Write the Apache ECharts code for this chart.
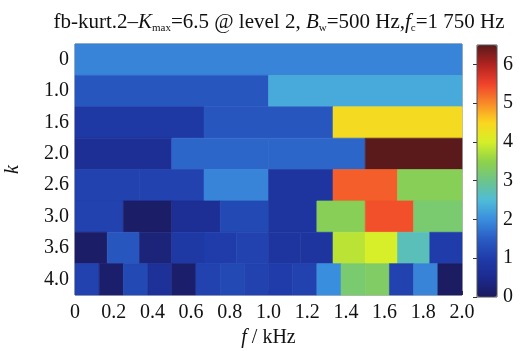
<!DOCTYPE html>
<html>
<head>
<meta charset="utf-8">
<script src="https://cdn.jsdelivr.net/npm/echarts@6/dist/echarts.min.js"></script>
<style>
  html, body { margin: 0; padding: 0; background: #fff; }
  #main { width: 520px; height: 351px; }
</style>
</head>
<body>
<div id="main"></div>
<script>
// 频带宽度 0~2 kHz，每一层按 1/3 二叉树划分
const freqMax = 2.0
const levelLabels = ['0', '1.0', '1.6', '2.0', '2.6', '3.0', '3.6', '4.0']
const freqTicks = ['0', '0.2', '0.4', '0.6', '0.8', '1.0', '1.2', '1.4', '1.6', '1.8', '2.0']

// 每一层的谱峭度值（从左到右）
const kurtLevel0 = [1.9]
const kurtLevel1 = [1.4, 2.3]
const kurtLevel16 = [0.9, 1.4, 4.4]
const kurtLevel2 = [0.6, 1.6, 1.6, 6.5]
const kurtLevel26 = [1.1, 1.1, 1.9, 0.8, 5.3, 3.4]
const kurtLevel3 = [1.1, 0.1, 0.6, 1.2, 0.8, 3.4, 5.4, 3.2]
const kurtLevel36 = [0.1, 1.4, 0.3, 0.9, 1.0, 1.1, 0.8, 0.8, 3.8, 4.0, 2.7, 1.0]
const kurtLevel4 = [1.1, 0.15, 1.2, 0.7, 0.15, 1.1, 1.2, 1.1, 1.0, 1.1, 2.0, 3.2, 3.3, 1.1, 1.9, 0.05]

const kurtRows = [kurtLevel0, kurtLevel1, kurtLevel16, kurtLevel2, kurtLevel26, kurtLevel3, kurtLevel36, kurtLevel4]
const kMax = 6.5

// jet 色表（印刷后略暗）
const jetColors = [
  '#1b1a5c', '#1c2a8e', '#1f3caa', '#2a5cc4', '#3a8ede', '#4fbcd8', '#6cc48a',
  '#8fd24a', '#d6ef28', '#fbd620', '#f88a28', '#f0412c', '#b0231f', '#5a1a1c',
]

// [起始频率, 结束频率, 层序号, 峭度]
function buildData (rows) {
  const data = []
  rows.forEach((values, i) => {
    const w = freqMax / values.length
    values.forEach((v, j) => {
      data.push([j * w, (j + 1) * w, i, v])
    })
  })
  return data
}

const font = 'Liberation Serif'
const chart = echarts.init(document.getElementById('main'), null, { renderer: 'canvas' })

chart.setOption({
  animation: false,
  title: {
    text: 'fb-kurt.2\u2013{i|K}{sub|max}=6.5 @ level 2, {i|B}{sub|w}=500 Hz,{i|f}{sub|c}=1 750 Hz',
    left: 274,
    textAlign: 'center',
    top: 6,
    textStyle: {
      fontFamily: font,
      fontSize: 21,
      fontWeight: 'normal',
      color: '#111',
      rich: {
        i: { fontFamily: font, fontSize: 21, fontStyle: 'italic', color: '#111' },
        sub: { fontFamily: font, fontSize: 11, color: '#111', verticalAlign: 'bottom', padding: [12, 0, 0, 0] },
      },
    },
  },
  grid: [
    {
      left: 75, right: 58, top: 44, bottom: 56,
      outerBoundsMode: 'none',
      show: true, borderColor: '#777', borderWidth: 1, backgroundColor: 'transparent',
    },
    {
      left: 477, width: 20, top: 45, height: 252,
      outerBoundsMode: 'none',
      show: true, borderColor: '#555', borderWidth: 1, z: 10,
    },
  ],
  xAxis: [
    {
      type: 'value',
      gridIndex: 0,
      min: 0,
      max: freqMax,
      interval: 0.2,
      name: '{i|f} / kHz',
      nameLocation: 'middle',
      nameGap: 33,
      nameTextStyle: {
        fontFamily: font,
        fontSize: 20,
        color: '#111',
        rich: { i: { fontFamily: font, fontSize: 20, fontStyle: 'italic', color: '#111' } },
      },
      axisLine: { show: false },
      axisTick: { show: true, inside: true, length: 4, lineStyle: { color: '#333' } },
      splitLine: { show: false },
      axisLabel: {
        margin: 8,
        fontFamily: font,
        fontSize: 20,
        color: '#111',
        formatter: (v) => freqTicks[Math.round(v / 0.2)],
      },
    },
    { type: 'value', gridIndex: 1, show: false, min: 0, max: 1 },
  ],
  yAxis: [
    {
      type: 'category',
      gridIndex: 0,
      data: levelLabels,
      inverse: true,
      name: 'k',
      nameLocation: 'middle',
      nameRotate: 90,
      nameGap: 52,
      nameTextStyle: { fontFamily: font, fontSize: 20, fontStyle: 'italic', color: '#111' },
      axisLine: { show: false },
      axisTick: { show: true, inside: true, alignWithLabel: true, length: 4, lineStyle: { color: '#333' } },
      axisLabel: { margin: 6, fontFamily: font, fontSize: 20, color: '#111' },
    },
    {
      type: 'value',
      gridIndex: 1,
      min: 0,
      max: kMax,
      interval: 1,
      position: 'right',
      axisLine: { show: false },
      axisTick: { show: true, inside: true, length: 4, lineStyle: { color: '#333' } },
      splitLine: { show: false },
      axisLabel: { margin: 6, fontFamily: font, fontSize: 20, color: '#111', showMaxLabel: false },
    },
  ],
  visualMap: {
    type: 'continuous',
    min: 0,
    max: kMax,
    dimension: 3,
    seriesIndex: 0,
    calculable: false,
    hoverLink: false,
    left: 477,
    top: 45,
    itemWidth: 20,
    itemHeight: 252,
    padding: 0,
    text: ['', ''],
    showLabel: false,
    inRange: { color: jetColors },
  },
  series: [
    {
      type: 'custom',
      xAxisIndex: 0,
      yAxisIndex: 0,
      encode: { x: [0, 1], y: 2 },
      data: buildData(kurtRows),
      renderItem: (params, api) => {
        const p0 = api.coord([api.value(0), api.value(2)])
        const p1 = api.coord([api.value(1), api.value(2)])
        const bandH = api.size([0, 1])[1]
        const color = api.visual('color')
        return {
          type: 'rect',
          shape: { x: p0[0], y: p0[1] - bandH / 2, width: p1[0] - p0[0], height: bandH },
          style: { fill: color, stroke: color, lineWidth: 0.6 },
        }
      },
    },
  ],
})
</script>
</body>
</html>
